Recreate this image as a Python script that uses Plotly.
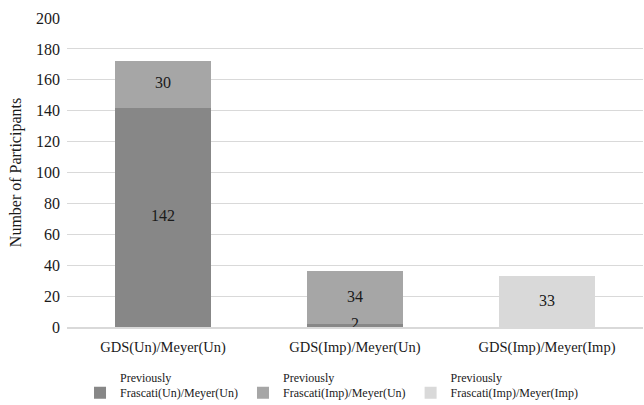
import plotly.graph_objects as go

categories = ["GDS(Un)/Meyer(Un)", "GDS(Imp)/Meyer(Un)", "GDS(Imp)/Meyer(Imp)"]
series_names = [
    "Previously<br>Frascati(Un)/Meyer(Un)",
    "Previously<br>Frascati(Imp)/Meyer(Un)",
    "Previously<br>Frascati(Imp)/Meyer(Imp)",
]
s1 = [142, 2, 0]
s2 = [30, 34, 0]
s3 = [0, 0, 33]
colors = ["#878787", "#a6a6a6", "#d9d9d9"]
yticks = [0, 20, 40, 60, 80, 100, 120, 140, 160, 180, 200]

FONT = "Liberation Serif"
TXT = "#1a1a1a"
fig = go.Figure()
series = [s1, s2, s3]
for name, vals, col in zip(series_names, series, colors):
    fig.add_trace(go.Bar(
        x=categories, y=vals, name=name,
        marker=dict(color=col, line=dict(width=0)),
        width=0.5, hoverinfo="skip",
    ))

# data labels centred in each stacked segment
lx, ly, lt = [], [], []
base = [0] * len(categories)
for vals in series:
    for i, v in enumerate(vals):
        if v:
            lx.append(categories[i])
            ly.append(base[i] + v / 2)
            lt.append(str(v))
        base[i] += v
fig.add_trace(go.Scatter(
    x=lx, y=ly, text=lt, mode="text", showlegend=False, hoverinfo="skip",
    textfont=dict(family=FONT, size=16, color=TXT), cliponaxis=False,
))

fig.update_layout(
    barmode="stack",
    width=644, height=405,
    margin=dict(l=67, r=1, t=18, b=78, autoexpand=False),
    paper_bgcolor="white", plot_bgcolor="white",
    font=dict(family=FONT, size=15, color=TXT),
    showlegend=True,
    legend=dict(
        orientation="h", x=0.0226, xanchor="left", y=-0.116, yanchor="top",
        font=dict(family=FONT, size=12, color=TXT),
        valign="bottom", traceorder="normal", bgcolor="rgba(0,0,0,0)",
    ),
    xaxis=dict(
        tickfont=dict(family=FONT, size=14.5, color=TXT),
        showline=True, linecolor="#d9d9d9", linewidth=1.5,
        ticks="", showgrid=False, ticklabelstandoff=6,
    ),
    yaxis=dict(
        range=[0, 200], tickvals=yticks,
        showgrid=True, gridcolor="#d9d9d9", gridwidth=1,
        zeroline=False, ticks="", ticklabelstandoff=6,
        tickfont=dict(family=FONT, size=16, color=TXT),
        title=dict(text="Number of Participants", font=dict(family=FONT, size=16, color=TXT), standoff=10),
    ),
)
fig.write_html("out.html", config={"displayModeBar": False},
               post_script="document.body.style.margin='0';")
